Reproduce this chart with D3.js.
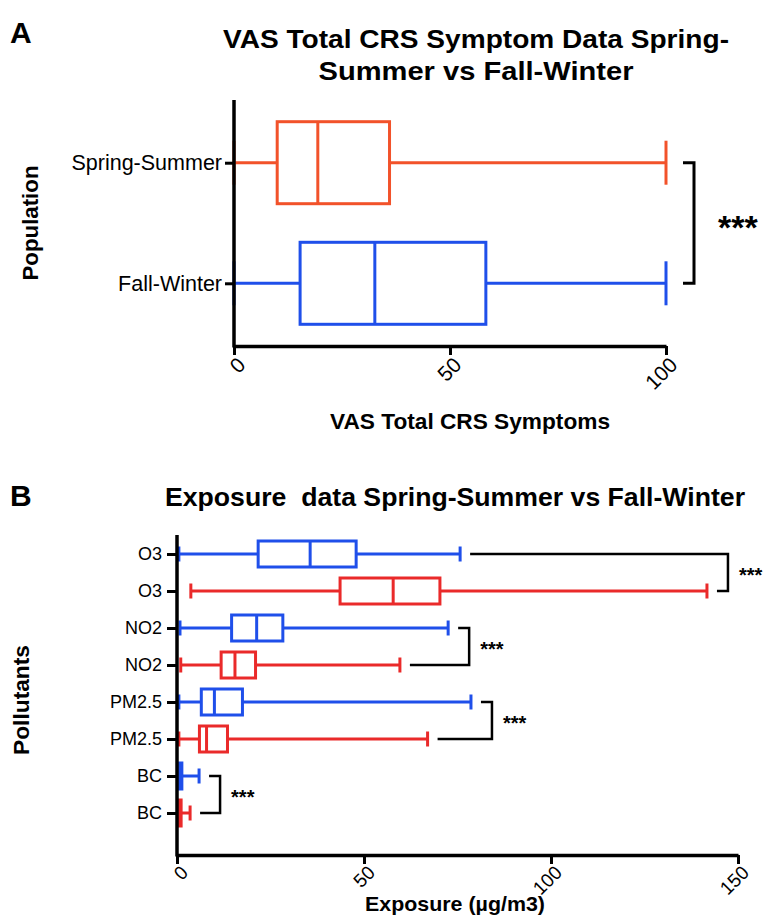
<!DOCTYPE html>
<html><head><meta charset="utf-8">
<script src="https://cdn.jsdelivr.net/npm/d3@7"></script>
<style>
html,body{margin:0;padding:0;background:#fff;}
text{font-family:"Liberation Sans",Arial,sans-serif;}
</style></head>
<body>
<svg id="c" width="766" height="916"></svg>
<script>
// ---------- Panel A data ----------
const popCategories = ["Spring-Summer", "Fall-Winter"];
const vasMin    = [0, 0];
const vasQ1     = [10, 15.3];
const vasMedian = [19.4, 32.6];
const vasQ3     = [36, 58.3];
const vasMax    = [100, 100];
const vasTicks  = [0, 50, 100];

// ---------- Panel B data ----------
const pollutantLabels = ["O3", "O3", "NO2", "NO2", "PM2.5", "PM2.5", "BC", "BC"];
const pollutantSeason = ["Fall-Winter", "Spring-Summer", "Fall-Winter", "Spring-Summer",
                         "Fall-Winter", "Spring-Summer", "Fall-Winter", "Spring-Summer"];
const expMin    = [0.5, 3.7, 0.8, 1.0, 0.5, 0.5, 0.3, 0.2];
const expQ1     = [21.7, 43.6, 14.6, 11.8, 6.5, 6.0, 0.5, 0.4];
const expMedian = [35.6, 57.8, 21.3, 15.5, 10.0, 7.9, 0.8, 0.7];
const expQ3     = [47.9, 70.3, 28.3, 21.0, 17.5, 13.5, 1.3, 1.1];
const expMax    = [75.7, 141.7, 72.5, 59.6, 78.6, 67.0, 5.9, 3.5];
const expTicks  = [0, 50, 100, 150];
const sigPairs  = [[0, 1], [2, 3], [4, 5], [6, 7]];
const sigLabels = ["***", "***", "***", "***"];

const colorA = {"Spring-Summer": "#f2522a", "Fall-Winter": "#1f4fea"};
const colorB = {"Spring-Summer": "#ea2a2a", "Fall-Winter": "#1f4fea"};

const svg = d3.select("#c");

function drawBox(g, y, h, capH, vals, color, x) {
  const [mn, q1, md, q3, mx] = vals;
  const s = g.append("g").attr("stroke", color).attr("fill", "none").attr("stroke-width", 3);
  s.append("line").attr("x1", x(mn)).attr("x2", x(q1)).attr("y1", y).attr("y2", y);
  s.append("line").attr("x1", x(q3)).attr("x2", x(mx)).attr("y1", y).attr("y2", y);
  s.append("line").attr("x1", x(mn)).attr("x2", x(mn)).attr("y1", y - capH / 2).attr("y2", y + capH / 2);
  s.append("line").attr("x1", x(mx)).attr("x2", x(mx)).attr("y1", y - capH / 2).attr("y2", y + capH / 2);
  s.append("rect").attr("x", x(q1)).attr("y", y - h / 2).attr("width", x(q3) - x(q1)).attr("height", h);
  s.append("line").attr("x1", x(md)).attr("x2", x(md)).attr("y1", y - h / 2).attr("y2", y + h / 2);
}

// ================= PANEL A =================
{
  const left = 234, right = 666, top = 100, bottom = 346;
  const x = d3.scaleLinear().domain([0, 100]).range([left, right]);
  const y = d3.scalePoint().domain(popCategories).range([top, bottom]).padding(0.52);
  const boxH = y.step() * 0.68;
  const g = svg.append("g");

  svg.append("text").attr("x", 10).attr("y", 43).attr("font-size", 30).attr("font-weight", "bold").text("A");
  svg.append("text").attr("x", 476).attr("y", 48).attr("text-anchor", "middle").attr("font-size", 25)
     .attr("font-weight", "bold").attr("textLength", 506).attr("lengthAdjust", "spacingAndGlyphs")
     .text("VAS Total CRS Symptom Data Spring-");
  svg.append("text").attr("x", 476).attr("y", 80).attr("text-anchor", "middle").attr("font-size", 25)
     .attr("font-weight", "bold").attr("textLength", 315).attr("lengthAdjust", "spacingAndGlyphs")
     .text("Summer vs Fall-Winter");

  popCategories.forEach((c, i) => {
    drawBox(g, y(c), boxH, 44, [vasMin[i], vasQ1[i], vasMedian[i], vasQ3[i], vasMax[i]], colorA[c], x);
  });

  // axes
  const xa = g.append("g").attr("transform", `translate(0,${bottom})`)
    .call(d3.axisBottom(x).tickValues(vasTicks).tickSize(9).tickSizeOuter(0));
  xa.select(".domain").attr("stroke-width", 3.5);
  xa.selectAll(".tick line").attr("stroke-width", 3);
  xa.selectAll(".tick text").attr("font-size", 21).attr("text-anchor", "end")
    .attr("transform", "translate(7,15) rotate(-45)").attr("dy", "0.35em").attr("y", 0).attr("x", 0)
    .style("font-family", "Liberation Sans, Arial, sans-serif");

  const ya = g.append("g").attr("transform", `translate(${left},0)`)
    .call(d3.axisLeft(y).tickSize(9).tickSizeOuter(0).tickPadding(3));
  ya.select(".domain").remove();
  g.append("line").attr("x1", left).attr("x2", left).attr("y1", top).attr("y2", bottom + 1.5)
    .attr("stroke", "#000").attr("stroke-width", 3.5);
  ya.selectAll(".tick line").attr("stroke-width", 3);
  ya.selectAll(".tick text").attr("font-size", 21.5).style("font-family", "Liberation Sans, Arial, sans-serif");

  svg.append("text").attr("x", 470).attr("y", 429).attr("text-anchor", "middle").attr("font-size", 22)
     .attr("font-weight", "bold").attr("textLength", 280).attr("lengthAdjust", "spacingAndGlyphs")
     .text("VAS Total CRS Symptoms");
  svg.append("text").attr("transform", `translate(38,${(top + bottom) / 2}) rotate(-90)`)
     .attr("text-anchor", "middle").attr("font-size", 22).attr("font-weight", "bold")
     .attr("textLength", 115).attr("lengthAdjust", "spacingAndGlyphs").text("Population");

  // significance bracket
  const bx = x(d3.max(vasMax)) + 28;
  const y1 = y(popCategories[0]), y2 = y(popCategories[1]);
  g.append("path").attr("d", `M${bx - 11},${y1}H${bx}V${y2}H${bx - 11}`)
    .attr("fill", "none").attr("stroke", "#000").attr("stroke-width", 3);
  svg.append("text").attr("x", bx + 24).attr("y", (y1 + y2) / 2 + 16).attr("font-size", 34)
    .attr("font-weight", "bold").text("***");
}

// ================= PANEL B =================
{
  const left = 177, right = 738, top = 535, bottom = 855;
  const x = d3.scaleLinear().domain([0, 150]).range([left, right]);
  const idx = pollutantLabels.map((d, i) => i);
  const y = d3.scalePoint().domain(idx).range([554, 813]);
  const boxH = 26;
  const g = svg.append("g");

  svg.append("text").attr("x", 10).attr("y", 506).attr("font-size", 30).attr("font-weight", "bold").text("B");
  svg.append("text").attr("x", 455).attr("y", 506).attr("text-anchor", "middle").attr("font-size", 25)
     .attr("font-weight", "bold").attr("xml:space", "preserve").style("white-space", "pre")
     .attr("textLength", 580).attr("lengthAdjust", "spacingAndGlyphs")
     .text("Exposure  data Spring-Summer vs Fall-Winter");

  idx.forEach(i => {
    drawBox(g, y(i), boxH, 15, [expMin[i], expQ1[i], expMedian[i], expQ3[i], expMax[i]],
            colorB[pollutantSeason[i]], x);
  });

  const xa = g.append("g").attr("transform", `translate(0,${bottom})`)
    .call(d3.axisBottom(x).tickValues(expTicks).tickSize(9).tickSizeOuter(0));
  xa.select(".domain").attr("stroke-width", 3.5);
  xa.selectAll(".tick line").attr("stroke-width", 3);
  xa.selectAll(".tick text").attr("font-size", 19).attr("text-anchor", "end")
    .attr("transform", "translate(7,14) rotate(-45)").attr("dy", "0.35em").attr("y", 0).attr("x", 0)
    .style("font-family", "Liberation Sans, Arial, sans-serif");

  const ya = g.append("g").attr("transform", `translate(${left},0)`)
    .call(d3.axisLeft(y).tickSize(10).tickSizeOuter(0).tickPadding(5).tickFormat(i => pollutantLabels[i]));
  ya.select(".domain").remove();
  g.append("line").attr("x1", left).attr("x2", left).attr("y1", top).attr("y2", bottom + 1.5)
    .attr("stroke", "#000").attr("stroke-width", 3.5);
  ya.selectAll(".tick line").attr("stroke-width", 3);
  ya.selectAll(".tick text").attr("font-size", 18).style("font-family", "Liberation Sans, Arial, sans-serif");

  svg.append("text").attr("x", 455).attr("y", 911).attr("text-anchor", "middle").attr("font-size", 21)
     .attr("font-weight", "bold").attr("textLength", 180).attr("lengthAdjust", "spacingAndGlyphs")
     .text("Exposure (\u00b5g/m3)");
  svg.append("text").attr("transform", `translate(29,700) rotate(-90)`)
     .attr("text-anchor", "middle").attr("font-size", 22).attr("font-weight", "bold")
     .attr("textLength", 110).attr("lengthAdjust", "spacingAndGlyphs").text("Pollutants");

  sigPairs.forEach(([a, b], k) => {
    const bx = x(Math.max(expMax[a], expMax[b])) + 21;
    const ya1 = y(a), yb = y(b);
    g.append("path")
      .attr("d", `M${x(expMax[a]) + 10},${ya1}H${bx}V${yb}H${x(expMax[b]) + 10}`)
      .attr("fill", "none").attr("stroke", "#000").attr("stroke-width", 2.5);
    svg.append("text").attr("x", bx + 11).attr("y", (ya1 + yb) / 2 + 9).attr("font-size", 20)
      .attr("font-weight", "bold").text(sigLabels[k]);
  });
}
</script>
</body></html>
